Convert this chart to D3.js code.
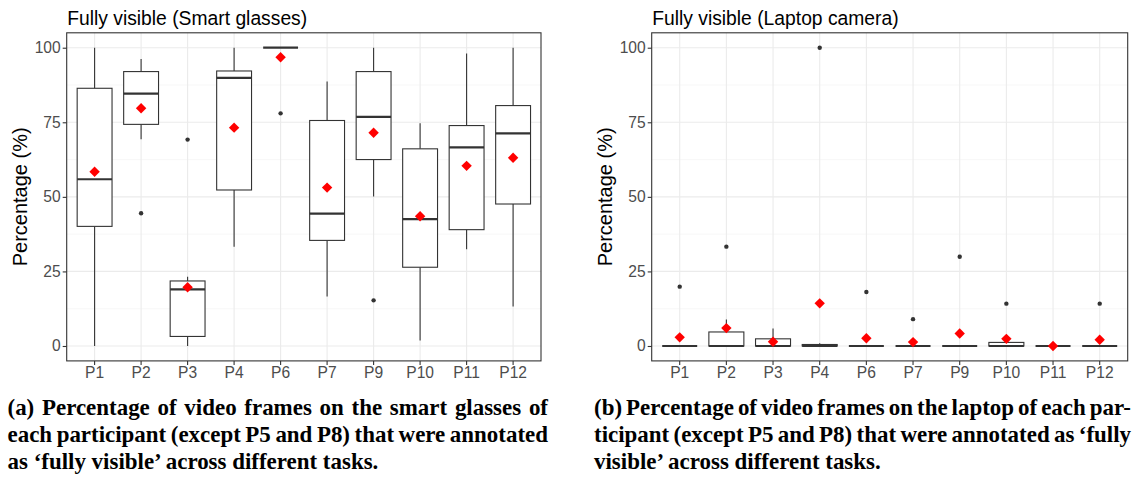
<!DOCTYPE html>
<html>
<head>
<meta charset="utf-8">
<script src="https://cdn.jsdelivr.net/npm/d3@7"></script>
<style>
  html, body { margin: 0; padding: 0; background: #fff; }
  svg { display: block; }
</style>
</head>
<body>
<svg id="chart" width="1134" height="478"></svg>
<script>
// ---------------- DATA ----------------
const categories = ["P1","P2","P3","P4","P6","P7","P9","P10","P11","P12"];
const yTicks = [0, 25, 50, 75, 100];
const yMinorTicks = [12.5, 37.5, 62.5, 87.5];

// Smart glasses
const glassesLow  = [0, 69.3, 0, 33.3, 100, 16.6, 50.1, 1.8, 32.4, 13.2];
const glassesQ1   = [40.1, 74.3, 3.2, 52.3, 100, 35.4, 62.5, 26.4, 39.0, 47.6];
const glassesMed  = [55.9, 84.6, 19.0, 89.9, 100, 44.4, 76.8, 42.5, 66.6, 71.3];
const glassesQ3   = [86.4, 92.0, 21.8, 92.2, 100, 75.6, 92.0, 66.1, 73.9, 80.6];
const glassesHigh = [100, 96.2, 23.2, 100, 100, 88.7, 100, 74.7, 98.1, 100];
const glassesMean = [58.4, 79.7, 19.7, 73.2, 96.8, 53.1, 71.5, 43.5, 60.4, 63.1];
const glassesOut  = [[], [44.5], [69.2], [], [78.0], [], [15.3], [], [], []];

// Laptop camera
const laptopLow  = [0, 0, 0, 0, 0, 0, 0, 0, 0, 0];
const laptopQ1   = [0, 0, 0, 0, 0, 0, 0, 0, 0, 0];
const laptopMed  = [0, 0, 0, 0, 0, 0, 0, 0, 0, 0];
const laptopQ3   = [0, 4.7, 2.4, 0.5, 0, 0, 0, 1.2, 0, 0];
const laptopHigh = [0, 8.9, 5.9, 0.9, 0, 0, 0, 1.2, 0, 0];
const laptopMean = [2.9, 6.0, 1.4, 14.3, 2.6, 1.3, 4.2, 2.4, 0, 2.1];
const laptopOut  = [[19.9], [33.3], [], [100], [18.1], [9.0], [29.9], [14.2], [], [14.2]];

const titles = ["Fully visible (Smart glasses)", "Fully visible (Laptop camera)"];
const yLabel = "Percentage (%)";
const captionA = ["(a) Percentage of video frames on the smart glasses of",
                  "each participant (except P5 and P8) that were annotated",
                  "as \u2018fully visible\u2019 across different tasks."];
const captionB = ["(b) Percentage of video frames on the laptop of each par-",
                  "ticipant (except P5 and P8) that were annotated as \u2018fully",
                  "visible\u2019 across different tasks."];

// ---------------- DRAWING ----------------
const svg = d3.select("#chart");
svg.append("rect").attr("width", 1134).attr("height", 478).attr("fill", "#fff");

const SANS = "'Liberation Sans', Arial, sans-serif";
const SERIF = "'Liberation Serif', 'Times New Roman', serif";

function drawPanel(p) {
  const g = svg.append("g");
  const x = d3.scaleBand().domain(categories).range([p.x0, p.x1]).paddingInner(0).paddingOuter(0.1);
  const y = d3.scaleLinear().domain([-5, 105]).range([p.y1, p.y0]);
  const bw = x.bandwidth();
  const cx = c => x(c) + bw / 2;
  const boxW = bw * 0.75;

  // grid
  g.append("g").selectAll("line").data(yMinorTicks).join("line")
    .attr("x1", p.x0).attr("x2", p.x1).attr("y1", d => y(d)).attr("y2", d => y(d))
    .attr("stroke", "#f2f2f2").attr("stroke-width", 0.6);
  g.append("g").selectAll("line").data(yTicks).join("line")
    .attr("x1", p.x0).attr("x2", p.x1).attr("y1", d => y(d)).attr("y2", d => y(d))
    .attr("stroke", "#ebebeb").attr("stroke-width", 1.1);
  g.append("g").selectAll("line").data(categories).join("line")
    .attr("x1", d => cx(d)).attr("x2", d => cx(d)).attr("y1", p.y0).attr("y2", p.y1)
    .attr("stroke", "#ebebeb").attr("stroke-width", 1.1);

  const rows = categories.map((c, i) => ({
    c, low: p.low[i], q1: p.q1[i], med: p.med[i], q3: p.q3[i], high: p.high[i],
    mean: p.mean[i], out: p.out[i]
  }));

  const bx = g.append("g").selectAll("g").data(rows).join("g");
  // whiskers
  bx.append("line").attr("x1", d => cx(d.c)).attr("x2", d => cx(d.c))
    .attr("y1", d => y(d.q3)).attr("y2", d => y(d.high))
    .attr("stroke", "#333").attr("stroke-width", 1.1);
  bx.append("line").attr("x1", d => cx(d.c)).attr("x2", d => cx(d.c))
    .attr("y1", d => y(d.q1)).attr("y2", d => y(d.low))
    .attr("stroke", "#333").attr("stroke-width", 1.1);
  // box
  bx.append("rect").attr("x", d => cx(d.c) - boxW / 2).attr("width", boxW)
    .attr("y", d => y(d.q3)).attr("height", d => Math.max(0, y(d.q1) - y(d.q3)))
    .attr("fill", "#fff").attr("stroke", "#333").attr("stroke-width", 1.1);
  // median
  bx.append("line").attr("x1", d => cx(d.c) - boxW / 2).attr("x2", d => cx(d.c) + boxW / 2)
    .attr("y1", d => y(d.med)).attr("y2", d => y(d.med))
    .attr("stroke", "#333").attr("stroke-width", 2.2);
  // outliers
  bx.each(function(d) {
    d3.select(this).selectAll("circle").data(d.out).join("circle")
      .attr("cx", cx(d.c)).attr("cy", v => y(v)).attr("r", 2.2).attr("fill", "#333");
  });
  // means
  const dm = 5.2;
  bx.append("path")
    .attr("d", d => {
      const X = cx(d.c), Y = y(d.mean);
      return `M${X},${Y - dm}L${X + dm},${Y}L${X},${Y + dm}L${X - dm},${Y}Z`;
    })
    .attr("fill", "#ff0000");

  // border
  g.append("rect").attr("x", p.x0).attr("y", p.y0).attr("width", p.x1 - p.x0).attr("height", p.y1 - p.y0)
    .attr("fill", "none").attr("stroke", "#333").attr("stroke-width", 1.1);

  // axes
  const ya = g.append("g").attr("transform", `translate(${p.x0},0)`)
    .call(d3.axisLeft(y).tickValues(yTicks).tickSize(4).tickPadding(2).tickFormat(d3.format("d")));
  ya.select(".domain").remove();
  ya.selectAll(".tick line").attr("stroke", "#333").attr("stroke-width", 1.1);
  ya.selectAll(".tick text").attr("fill", "#4d4d4d").style("font-family", SANS).style("font-size", "15.6px");

  const xa = g.append("g").attr("transform", `translate(0,${p.y1})`)
    .call(d3.axisBottom(x).tickSize(4).tickPadding(2));
  xa.select(".domain").remove();
  xa.selectAll(".tick line").attr("stroke", "#333").attr("stroke-width", 1.1);
  xa.selectAll(".tick text").attr("fill", "#4d4d4d").style("font-family", SANS).style("font-size", "15.6px");

  // titles
  g.append("text").attr("x", p.x0 + 0.5).attr("y", 25).text(p.title)
    .style("font-family", SANS).style("font-size", "19.3px").attr("fill", "#000");
  g.append("text").attr("transform", `translate(${p.yTitleX},${(p.y0 + p.y1) / 2}) rotate(-90)`)
    .attr("text-anchor", "middle").text(yLabel)
    .style("font-family", SANS).style("font-size", "20px").attr("fill", "#000");
}

drawPanel({ x0: 66.7, x1: 541, y0: 32.8, y1: 360.9, title: titles[0], yTitleX: 26.7,
  low: glassesLow, q1: glassesQ1, med: glassesMed, q3: glassesQ3, high: glassesHigh, mean: glassesMean, out: glassesOut });
drawPanel({ x0: 651.7, x1: 1127.7, y0: 32.8, y1: 360.9, title: titles[1], yTitleX: 611.7,
  low: laptopLow, q1: laptopQ1, med: laptopMed, q3: laptopQ3, high: laptopHigh, mean: laptopMean, out: laptopOut });

// ---------------- CAPTIONS ----------------
function measure(str, fs) {
  const t = svg.append("text").text(str).style("font-family", SERIF).style("font-weight", "bold").style("font-size", fs + "px");
  const w = t.node().getComputedTextLength();
  t.remove();
  return w;
}
const baseFs = 18;
const capFs = baseFs * 371 / measure(captionA[2], baseFs);

function drawCaption(lines, xl, xr, baselines) {
  lines.forEach((line, li) => {
    const t = svg.append("text").attr("y", baselines[li])
      .style("font-family", SERIF).style("font-weight", "bold").style("font-size", capFs + "px").attr("fill", "#000");
    if (li === lines.length - 1) {
      t.attr("x", xl).text(line);
      return;
    }
    const words = line.split(" ");
    const widths = words.map(w => measure(w, capFs));
    const total = d3.sum(widths);
    const gap = (xr - xl - total) / (words.length - 1);
    let cur = xl;
    words.forEach((w, i) => {
      t.append("tspan").attr("x", cur).text(w);
      cur += widths[i] + gap;
    });
  });
}
drawCaption(captionA, 7.5, 548, [415, 442, 469]);
drawCaption(captionB, 594, 1131, [415, 442, 469]);
</script>
</body>
</html>
